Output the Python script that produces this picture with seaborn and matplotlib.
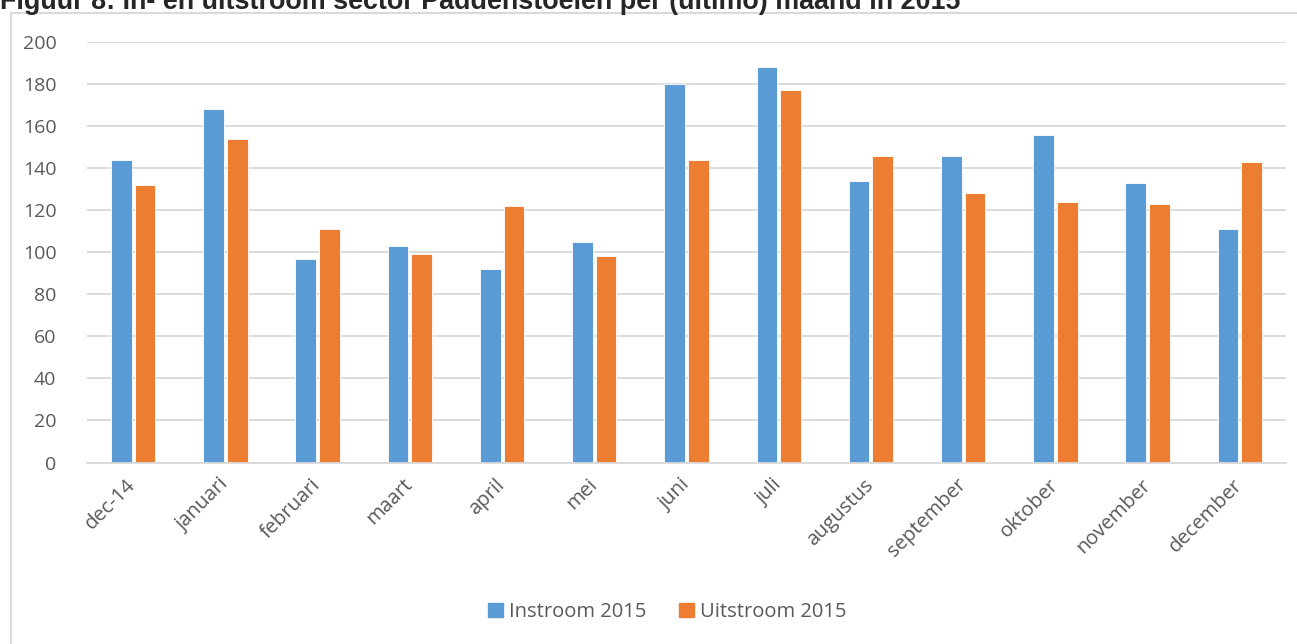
import numpy as np
import pandas as pd
import matplotlib
matplotlib.use('Agg')
import matplotlib.pyplot as plt
import seaborn as sns

# data
months = ['dec-14', 'januari', 'februari', 'maart', 'april', 'mei', 'juni',
          'juli', 'augustus', 'september', 'oktober', 'november', 'december']
instroom = [144, 168, 97, 103, 92, 105, 180, 188, 134, 146, 156, 133, 111]
uitstroom = [132, 154, 111, 99, 122, 98, 144, 177, 146, 128, 124, 123, 143]
series_names = ['Instroom 2015', 'Uitstroom 2015']
colors = ['#5B9BD5', '#ED7D31']
yticks = [0, 20, 40, 60, 80, 100, 120, 140, 160, 180, 200]

title = 'Figuur 8: In- en uitstroom sector Paddenstoelen per (ultimo) maand in 2015'

# long form table for seaborn
df = pd.DataFrame({
    'maand': months * 2,
    'aantal': instroom + uitstroom,
    'serie': [series_names[0]] * len(months) + [series_names[1]] * len(months),
})

sns.set_style('white')
plt.rcParams['font.family'] = ['Open Sans', 'DejaVu Sans']

W, H = 1297, 644
fig = plt.figure(figsize=(W / 100, H / 100), dpi=100)
ax = fig.add_axes([87 / W, 1 - 462.5 / H, (1286 - 87) / W, (462.5 - 42) / H])

sns.barplot(data=df, x='maand', y='aantal', hue='serie', order=months,
            hue_order=series_names, palette=colors, width=0.513, gap=0.127,
            edgecolor='white', linewidth=0.6, saturation=1, ax=ax, legend=False)

ax.set_ylim(0, 200)
ax.set_xlim(-0.5, len(months) - 0.5)
ax.set_yticks(yticks)
ax.yaxis.grid(True, color='#D9D9D9', linewidth=1.3)
ax.set_axisbelow(True)
for side in ['top', 'right', 'left']:
    ax.spines[side].set_visible(False)
ax.spines['bottom'].set_color('#D9D9D9')
ax.spines['bottom'].set_linewidth(1.3)
ax.set_xlabel('')
ax.set_ylabel('')
ax.tick_params(axis='y', length=0, pad=22, labelsize=14, labelcolor='#595959')
ax.tick_params(axis='x', length=0, pad=14, labelsize=14.5, labelcolor='#595959')
plt.setp(ax.get_xticklabels(), rotation=45, ha='right', va='center',
         rotation_mode='anchor')

# legend at the bottom
handles = [plt.Rectangle((0, 0), 1, 1, color=c) for c in colors]
fig.legend(handles, series_names, loc='center', bbox_to_anchor=(667 / W, 1 - 612 / H),
           ncol=2, frameon=False, fontsize=14.5, handlelength=0.75, handleheight=0.75,
           handletextpad=0.3, columnspacing=1.6, labelcolor='#595959')

# chart frame (left and top edges only visible)
fig.add_artist(plt.Line2D([10.5 / W, 10.5 / W], [0, 1 - 12.5 / H], color='#D9D9D9', lw=1.5))
fig.add_artist(plt.Line2D([10.5 / W, 1], [1 - 12.5 / H, 1 - 12.5 / H], color='#D9D9D9', lw=1.5))

# title, cut off at the top as in the reference
fig.text(0, 1 - 9 / H, title, fontsize=19.4, fontweight='bold',
         family=['Liberation Sans', 'DejaVu Sans'], va='baseline', ha='left')

fig.savefig('out.png', dpi=100)
